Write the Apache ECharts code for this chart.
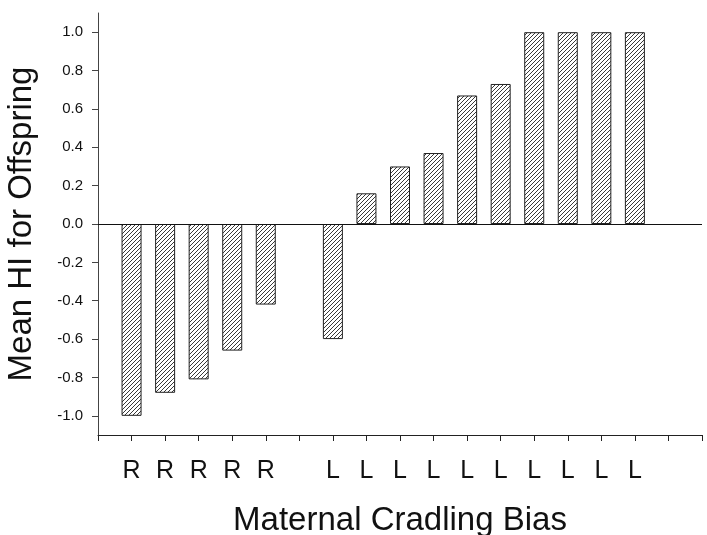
<!DOCTYPE html>
<html>
<head>
<meta charset="utf-8">
<script src="https://cdn.jsdelivr.net/npm/echarts@6/dist/echarts.min.js"></script>
<style>
  html, body { margin: 0; padding: 0; background: #fff; }
  #chart { width: 707px; height: 535px; }
</style>
</head>
<body>
<div id="chart"></div>
<script>
// tick labels along the x axis (one per tick, empty where no bar)
const categorias = ['', 'R', 'R', 'R', 'R', 'R', '', 'L', 'L', 'L', 'L', 'L', 'L', 'L', 'L', 'L', 'L', '', ''];
// mean HI per mother, null where there is no bar
const valores = [null, -1.0, -0.88, -0.81, -0.66, -0.42, null, -0.60, 0.16, 0.30, 0.37, 0.67, 0.73, 1.0, 1.0, 1.0, 1.0, null, null];
const ticks_y = [-1.0, -0.8, -0.6, -0.4, -0.2, 0.0, 0.2, 0.4, 0.6, 0.8, 1.0];

// hatch pattern "/" for the bars
const patron = document.createElement('canvas');
patron.width = 4;
patron.height = 4;
const ctx = patron.getContext('2d');
ctx.fillStyle = '#fff';
ctx.fillRect(0, 0, 4, 4);
ctx.strokeStyle = '#222';
ctx.lineWidth = 0.9;
ctx.beginPath();
ctx.moveTo(-1, 5); ctx.lineTo(5, -1);
ctx.moveTo(-1, 1); ctx.lineTo(1, -1);
ctx.moveTo(3, 5); ctx.lineTo(5, 3);
ctx.stroke();

const fuente = 'Liberation Sans, Arial, Helvetica, sans-serif';

let option = {
    animation: false,
    backgroundColor: '#fff',
    grid: { left: 98, right: 5, top: 13, bottom: 100, outerBoundsMode: 'none', containLabel: false },
    xAxis: {
        type: 'category',
        data: categorias,
        boundaryGap: false,
        name: 'Maternal Cradling Bias',
        nameLocation: 'middle',
        nameGap: 69,
        nameTextStyle: { fontSize: 33, color: '#111', fontFamily: fuente },
        axisLine: { onZero: false, lineStyle: { color: '#222', width: 1 } },
        axisTick: { show: true, length: 6, interval: 0, lineStyle: { color: '#222' } },
        axisLabel: { interval: 0, margin: 24, fontSize: 25, color: '#111', fontFamily: fuente },
        splitLine: { show: false }
    },
    yAxis: {
        type: 'value',
        min: -1.1,
        max: 1.1,
        name: 'Mean HI for Offspring',
        nameLocation: 'middle',
        nameRotate: 90,
        nameGap: 60,
        nameTextStyle: { fontSize: 33, color: '#111', fontFamily: fuente },
        axisLine: { show: true, lineStyle: { color: '#444', width: 1 } },
        axisTick: { show: true, length: 6, customValues: ticks_y, lineStyle: { color: '#444' } },
        axisLabel: {
            customValues: ticks_y,
            margin: 15,
            fontSize: 15,
            color: '#111',
            fontFamily: fuente,
            formatter: function (v) { return v.toFixed(1); }
        },
        splitLine: { show: false }
    },
    series: [{
        type: 'bar',
        data: valores,
        barWidth: 20,
        itemStyle: {
            color: { image: patron, repeat: 'repeat' },
            borderColor: '#222',
            borderWidth: 1
        },
        markLine: {
            silent: true,
            symbol: 'none',
            label: { show: false },
            lineStyle: { color: '#111', width: 1, type: 'solid' },
            data: [{ yAxis: 0 }]
        }
    }]
};

var myChart = echarts.init(document.getElementById('chart'));
myChart.setOption(option);
</script>
</body>
</html>
